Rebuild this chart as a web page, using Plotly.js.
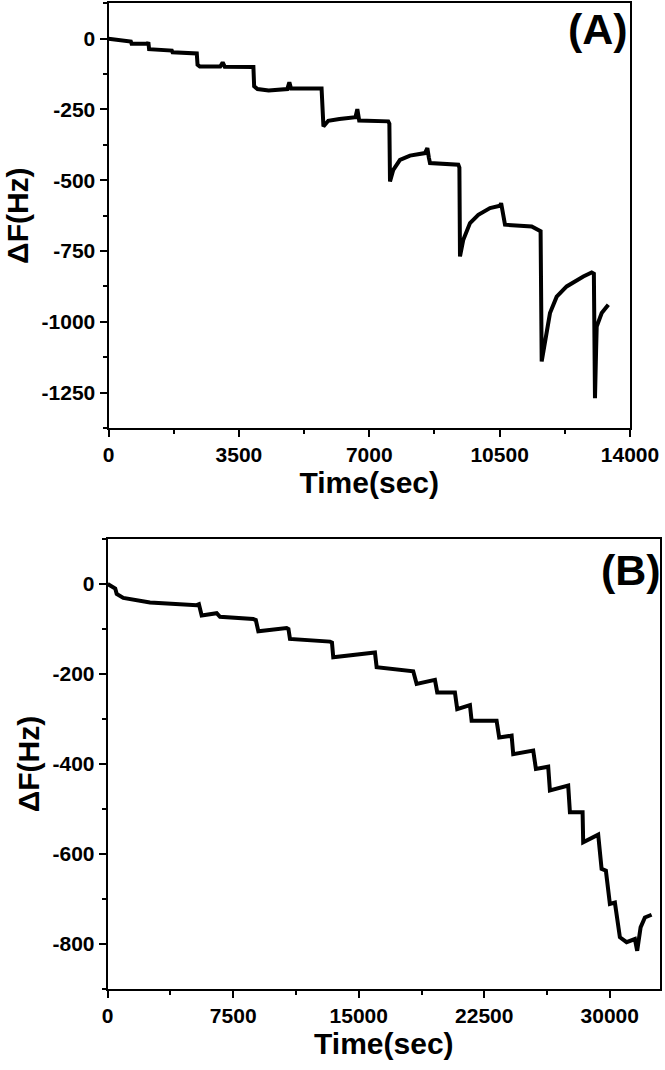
<!DOCTYPE html>
<html>
<head>
<meta charset="utf-8">
<script src="https://cdn.plot.ly/plotly-3.0.1.min.js"></script>
<style>html,body{margin:0;padding:0;background:#fff}#chart{width:665px;height:1070px}</style>
</head>
<body>
<div id="chart"></div>
<script>
// Panel A: time (s) and frequency shift (Hz)
const timeA = [0, 175, 600, 620, 1050, 1070, 1090, 1700, 1720, 2370, 2390, 2450, 3000, 3065, 3120, 3890, 3910, 4000, 4300, 4800, 4855, 4900, 5680, 5720, 5770, 5900, 6200, 6630, 6680, 6730, 7510, 7540, 7557, 7646, 7825, 8094, 8497, 8540, 8560, 8600, 8631, 9391, 9420, 9436, 9525, 9705, 9928, 10242, 10510, 10540, 10580, 10644, 11361, 11600, 11629, 11718, 11852, 12032, 12300, 12747, 12971, 13030, 13060, 13090, 13106, 13240, 13418];
const dfA   = [0, -3, -10, -18, -18, -12, -37, -42, -48, -52, -92, -98, -98, -84, -99, -100, -168, -178, -183, -178, -154, -176, -174, -176, -310, -290, -284, -277, -249, -289, -292, -300, -504, -463, -428, -413, -404, -390, -386, -420, -439, -445, -455, -769, -710, -651, -622, -598, -590, -581, -620, -657, -663, -680, -1140, -1064, -969, -911, -875, -840, -826, -830, -1270, -1100, -1017, -969, -940];

// Panel B
const timeB = [0, 335, 450, 538, 932, 2527, 5317, 5450, 5615, 6511, 6709, 8698, 8850, 9000, 10693, 10800, 10890, 13280, 13400, 13477, 15866, 15968, 16070, 18256, 18459, 19552, 19690, 20747, 20884, 21643, 21744, 23237, 23393, 24134, 24230, 25424, 25586, 26320, 26422, 27515, 27617, 28375, 28411, 29307, 29510, 29767, 30006, 30305, 30603, 31004, 31500, 31637, 31840, 32097, 32497];
const dfB   = [0, -7.5, -10, -22, -31, -41, -47, -45, -70, -65, -73, -78, -80, -105, -98, -100, -122, -128, -130, -163, -152, -152, -185, -194, -222, -213, -241, -241, -278, -269, -304, -304, -341, -337, -378, -370, -411, -406, -459, -448, -507, -507, -574, -557, -633, -637, -711, -708, -785, -796, -789, -815, -763, -741, -735];

// Tick values and labels
const xTickValsA = [0, 3500, 7000, 10500, 14000];
const xTickTextA = ['0', '3500', '7000', '10500', '14000'];
const yTickValsA = [0, -250, -500, -750, -1000, -1250];
const yTickTextA = ['0', '-250', '-500', '-750', '-1000', '-1250'];
const xTickValsB = [0, 7500, 15000, 22500, 30000];
const xTickTextB = ['0', '7500', '15000', '22500', '30000'];
const yTickValsB = [0, -200, -400, -600, -800];
const yTickTextB = ['0', '-200', '-400', '-600', '-800'];

const FONT = 'Liberation Sans, Arial, sans-serif';
const W = 665, H = 1070;

function axis(vals, text, minor, range, dom, anchor, titleText, standoff) {
  return {
    domain: dom, anchor: anchor, range: range, autorange: false,
    tickmode: 'array', tickvals: vals, ticktext: text,
    ticks: 'outside', ticklen: 7, tickwidth: 2, tickcolor: '#000',
    minor: {tickmode: 'linear', tick0: 0, dtick: minor, ticks: 'outside', ticklen: 4, tickwidth: 2, tickcolor: '#000', showgrid: false},
    showline: true, linewidth: 2, linecolor: '#000', mirror: true,
    showgrid: false, zeroline: false,
    tickfont: {family: FONT, size: 21, color: '#000', weight: 'bold'},
    title: {text: titleText, font: {family: FONT, size: 30, color: '#000', weight: 'bold'}, standoff: standoff},
    automargin: false
  };
}

const traces = [
  {x: timeA, y: dfA, xaxis: 'x', yaxis: 'y', mode: 'lines', line: {color: '#000', width: 4}},
  {x: timeB, y: dfB, xaxis: 'x2', yaxis: 'y2', mode: 'lines', line: {color: '#000', width: 4}}
];

const layout = {
  width: W, height: H,
  margin: {l: 0, r: 0, t: 0, b: 0},
  paper_bgcolor: '#fff', plot_bgcolor: '#fff',
  showlegend: false,
  xaxis: axis(xTickValsA, xTickTextA, 1750, [0, 14000], [108.5 / W, 630 / W], 'y', 'Time(sec)', 0),
  yaxis: axis(yTickValsA, yTickTextA, 125, [-1375, 125], [1 - 428 / H, 1 - 3.3 / H], 'x', 'ΔF(Hz)', 4),
  xaxis2: axis(xTickValsB, xTickTextB, 3750, [0, 33000], [107.7 / W, 660 / W], 'y2', 'Time(sec)', 0),
  yaxis2: axis(yTickValsB, yTickTextB, 100, [-900, 100], [1 - 989 / H, 1 - 539 / H], 'x2', 'ΔF(Hz)', 4),
  annotations: [
    {text: '(A)', xref: 'x domain', yref: 'y domain', x: 1.0, y: 1.0, xanchor: 'right', yanchor: 'top', showarrow: false,
     font: {family: FONT, size: 43, color: '#000', weight: 'bold'}},
    {text: '(B)', xref: 'x2 domain', yref: 'y2 domain', x: 1.005, y: 0.99, xanchor: 'right', yanchor: 'top', showarrow: false,
     font: {family: FONT, size: 43, color: '#000', weight: 'bold'}}
  ]
};

Plotly.newPlot('chart', traces, layout, {displayModeBar: false, staticPlot: true});
</script>
</body>
</html>
